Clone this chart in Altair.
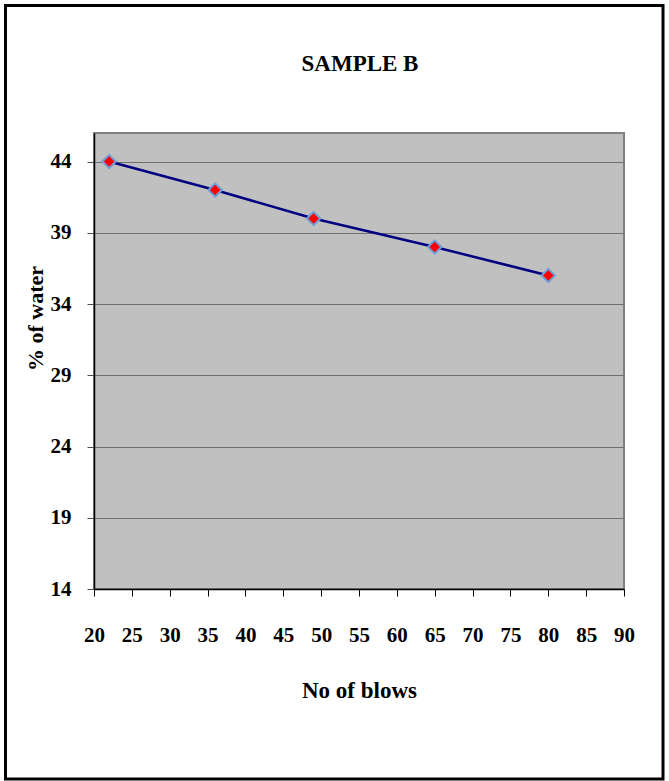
import altair as alt
import pandas as pd

blows = [22, 36, 49, 65, 80]
water = [44, 42, 40, 38, 36]
x_ticks = [20, 25, 30, 35, 40, 45, 50, 55, 60, 65, 70, 75, 80, 85, 90]
y_ticks = [14, 19, 24, 29, 34, 39, 44]
title_text = ["SAMPLE B"]

df = pd.DataFrame({"blows": blows, "water": water})
FONT = "Times New Roman, Liberation Serif, DejaVu Serif"

xs = alt.Scale(domain=[20, 90], nice=False, zero=False)
ys = alt.Scale(domain=[14, 46], nice=False, zero=False)

x_axis = alt.Axis(
    values=x_ticks, tickCount=15, grid=False, domainColor="black", domainWidth=1.5,
    tickColor="black", tickSize=7, labelFont=FONT, labelFontSize=21,
    labelFontWeight="bold", labelColor="black", labelPadding=28,
    labelOverlap=False, labelFlush=False,
    title="No of blows", titleFont=FONT, titleFontSize=23, titleFontWeight="bold",
    titleColor="black", titleY=101, titleBaseline="middle",
)
y_axis = alt.Axis(
    values=y_ticks, grid=True, gridColor="#707070", gridWidth=1.2,
    domainColor="black", domainWidth=1.5, tickColor="#505050", tickSize=7,
    labelFont=FONT, labelFontSize=21, labelFontWeight="bold", labelColor="black",
    labelPadding=16, labelOverlap=False, labelFlush=False,
    title="% of water", titleFont=FONT, titleFontSize=22,
    titleFontWeight="bold", titleColor="black", titleX=-59, titleY=185,
    titleBaseline="middle", titleAngle=-90,
)

base = alt.Chart(df)

border = alt.Chart(alt.Data(values=[{"a": 1}])).mark_rect(
    filled=False, stroke="black", strokeWidth=3, clip=False
).encode(
    x=alt.value(-88.5), x2=alt.value(569), y=alt.value(-127.5), y2=alt.value(646)
)

title = alt.Chart(pd.DataFrame({"t": title_text})).mark_text(
    font=FONT, fontSize=23, fontWeight="bold", color="black",
    align="center", baseline="alphabetic", clip=False
).encode(
    text="t:N", x=alt.value(266), y=alt.value(-62)
)

line = base.mark_line(color="#000080", strokeWidth=2.5).encode(
    x=alt.X("blows:Q", scale=xs, axis=x_axis),
    y=alt.Y("water:Q", scale=ys, axis=y_axis),
)
pts = base.mark_point(
    shape="diamond", filled=True, fill="#ff0000", stroke="#6f9fd8",
    strokeWidth=2, size=180, opacity=1
).encode(
    x=alt.X("blows:Q", scale=xs, axis=x_axis),
    y=alt.Y("water:Q", scale=ys, axis=y_axis),
)

chart = alt.layer(border, title, line, pts).properties(
    width=530, height=456,
    autosize=alt.AutoSizeParams(type="none"),
    padding={"left": 94, "top": 133, "right": 45, "bottom": 192},
    background="white",
).configure_view(
    fill="#c0c0c0", stroke="#808080", strokeWidth=2
)

chart.save("out.html", embed_options={"renderer": "svg", "actions": False})
